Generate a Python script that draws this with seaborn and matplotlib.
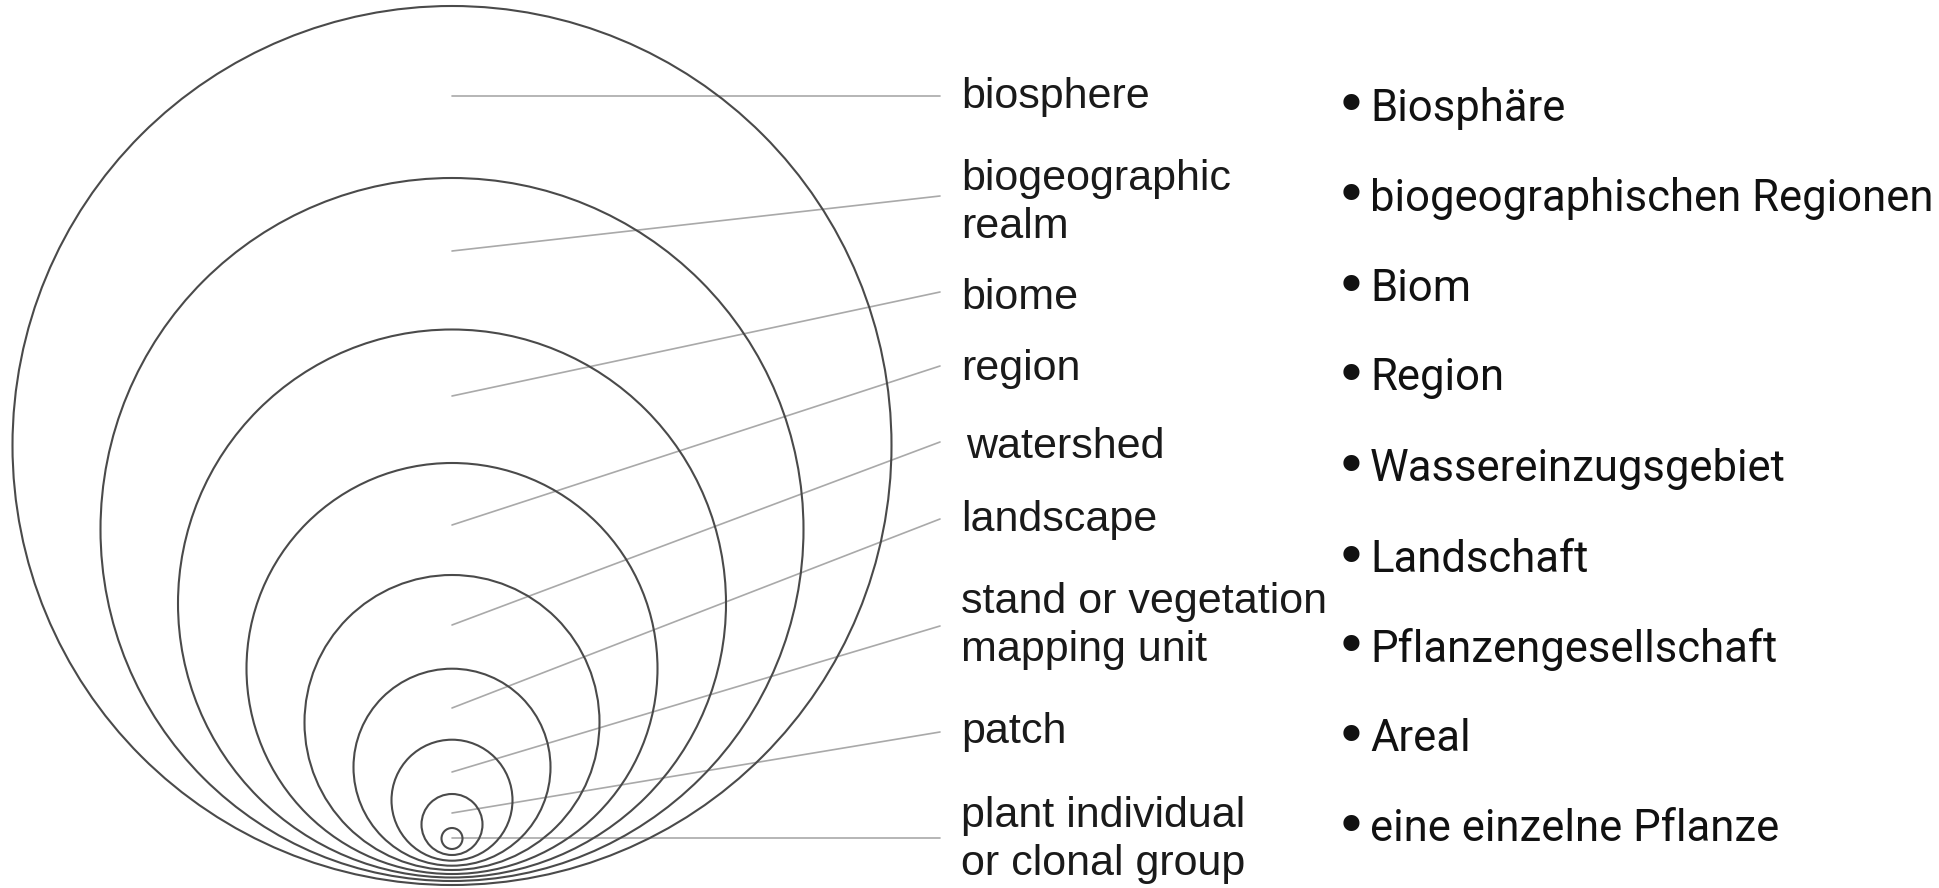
import numpy as np
import pandas as pd
import seaborn as sns
import matplotlib.pyplot as plt
from matplotlib.patches import Circle

# hierarchy levels, outermost first
labels_en = ['biosphere', 'biogeographic\nrealm', 'biome', 'region', 'watershed',
             'landscape', 'stand or vegetation\nmapping unit', 'patch',
             'plant individual\nor clonal group']
labels_de = ['Biosphäre', 'biogeographischen Regionen', 'Biom', 'Region',
             'Wassereinzugsgebiet', 'Landschaft', 'Pflanzengesellschaft', 'Areal',
             'eine einzelne Pflanze']

# nested circles (pixel units of the drawing)
circle_r = [439.5, 351.5, 274.0, 205.5, 147.5, 98.5, 60.5, 30.5, 10.5]
circle_bottom = [885.0, 881.0, 877.5, 874.0, 870.0, 865.7, 860.7, 855.0, 849.0]
center_x = 452

# leader lines: from inside each circle out to its label
leader_y0 = [96, 251, 396, 525, 625, 708, 772, 813, 838]
leader_y1 = [96, 196, 292, 366, 442, 519, 626, 732, 838]
leader_x0, leader_x1 = 452, 940

label_en_x = [961, 961, 961, 961, 966, 961, 961, 961, 961]
label_en_y = [97, 203, 298, 369, 447, 520, 626, 732, 840]
label_de_y = [108, 198, 289, 378, 469, 560, 649, 739, 829]

sns.set_theme(style='white')
plt.rcParams['font.family'] = ['Liberation Sans', 'DejaVu Sans']

fig = plt.figure(figsize=(19.4, 8.88), dpi=100)
ax = fig.add_axes([0, 0, 1, 1])

leaders = pd.DataFrame({
    'level': np.repeat(range(len(labels_en)), 2),
    'x': [leader_x0, leader_x1] * len(labels_en),
    'y': [v for pair in zip(leader_y0, leader_y1) for v in pair],
})
sns.lineplot(data=leaders, x='x', y='y', units='level', estimator=None, sort=False,
             color='#a9a9a9', lw=1.2, ax=ax, legend=False)

for r, b in zip(circle_r, circle_bottom):
    ax.add_patch(Circle((center_x, b - r), r, fill=False, ec='#4a4a4a', lw=1.5, zorder=3))

for lab, x, y in zip(labels_en, label_en_x, label_en_y):
    ax.text(x, y, lab, fontsize=31, color='#1a1a1a', va='center', ha='left',
            linespacing=1.27, family=['Liberation Sans', 'DejaVu Sans'])

for lab, y in zip(labels_de, label_de_y):
    ax.text(1351, y, '\u2022', fontsize=40, color='#111111', va='center', ha='center',
            family=['DejaVu Sans'])
    ax.text(1370, y, lab, fontsize=31.4, color='#111111', va='center', ha='left',
            family=['Roboto', 'DejaVu Sans'])

ax.set_xlim(0, 1940)
ax.set_ylim(888, 0)
ax.axis('off')

fig.savefig('out.png', dpi=100, facecolor='white')
plt.close(fig)
